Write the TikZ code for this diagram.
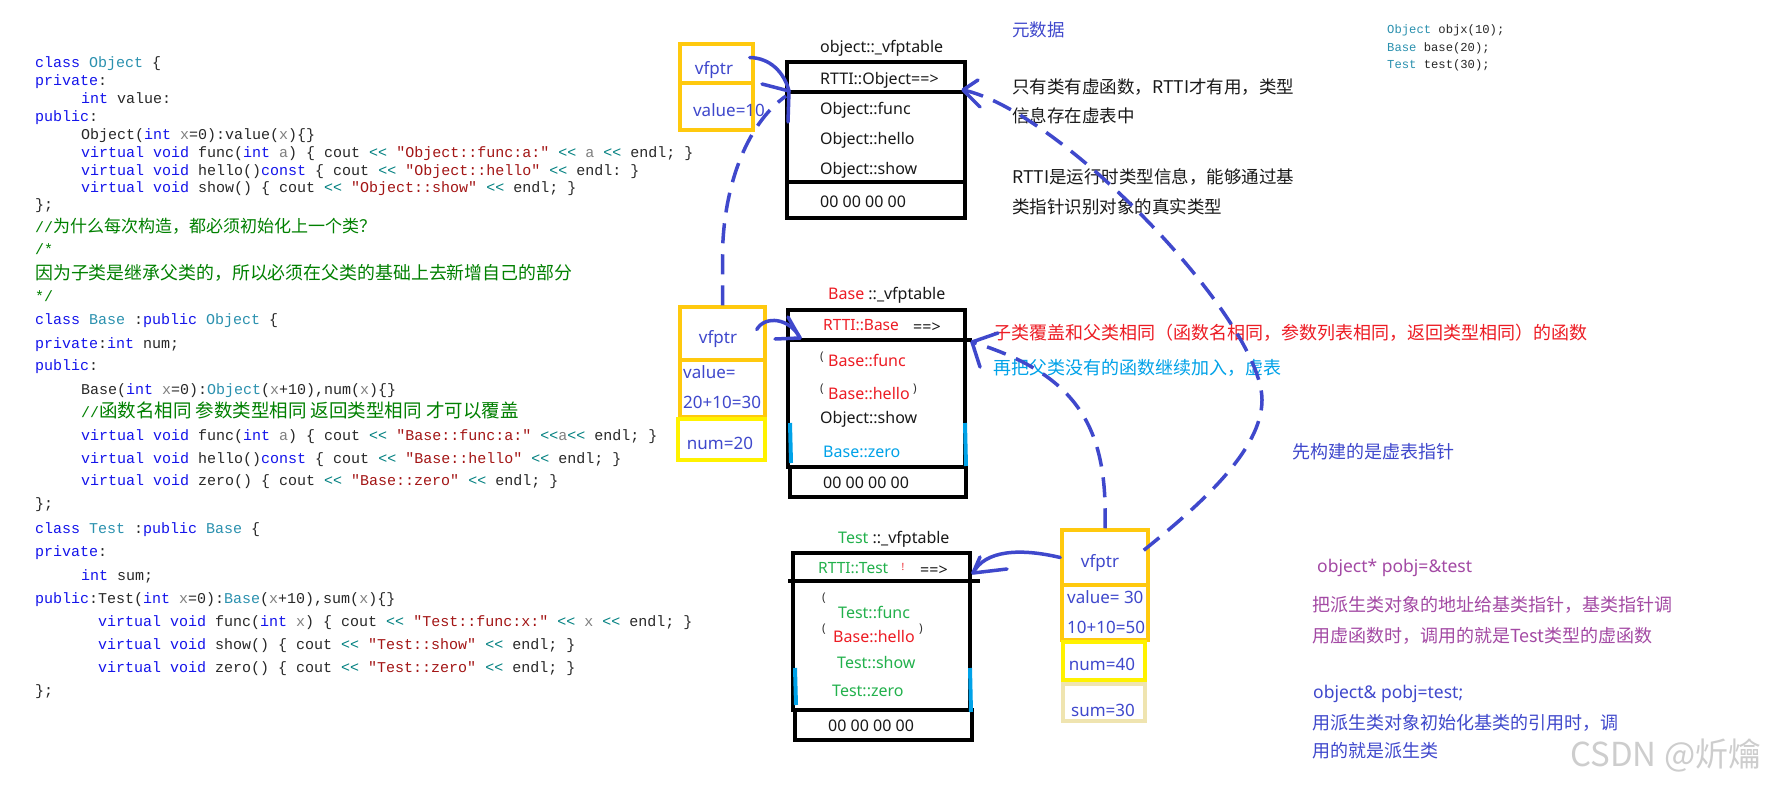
\documentclass[tikz,border=0pt]{standalone}
\usepackage{fontspec}
\setmainfont{Noto Sans}
\setmonofont{Liberation Mono}
\newfontfamily\cjk{Noto Sans CJK SC}
\usetikzlibrary{fit,calc}
\definecolor{pblue}{RGB}{63,72,204}
\definecolor{gold}{RGB}{255,201,14}
\definecolor{pyellow}{RGB}{255,242,0}
\definecolor{beige}{RGB}{239,228,176}
\definecolor{pred}{RGB}{237,28,36}
\definecolor{pcyan}{RGB}{0,162,232}
\definecolor{pgreen}{RGB}{34,177,76}
\definecolor{ppurple}{RGB}{163,73,164}
\definecolor{kwc}{RGB}{20,20,235}
\definecolor{clsc}{RGB}{43,145,175}
\definecolor{strc}{RGB}{163,21,21}
\definecolor{opc}{RGB}{0,128,128}
\definecolor{grc}{RGB}{128,128,128}
\definecolor{comc}{RGB}{0,128,0}
\definecolor{codeblack}{RGB}{40,40,40}
\definecolor{labelblack}{RGB}{25,25,25}
\definecolor{wmgray}{RGB}{205,205,205}
\newcommand\ckw[1]{\textcolor{kwc}{#1}}
\newcommand\ccls[1]{\textcolor{clsc}{#1}}
\newcommand\cstr[1]{\textcolor{strc}{#1}}
\newcommand\cop[1]{\textcolor{opc}{#1}}
\newcommand\cgr[1]{\textcolor{grc}{#1}}
\newcommand\ccn[2]{{\cjk\fontsize{#1}{#1}\selectfont #2}}
\begin{document}
\begin{tikzpicture}[x=1pt,y=-1pt,
  code/.style={anchor=mid west,inner sep=0,font=\ttfamily\fontsize{15}{17}\selectfont,text=codeblack},
  comline/.style={code,text=comc},
  topcode/.style={anchor=mid west,inner sep=0,font=\ttfamily\fontsize{12.2}{14}\selectfont,text=codeblack},
  lbl/.style={anchor=mid west,inner sep=0,font=\fontsize{16}{19}\selectfont,text=labelblack},
  smalllbl/.style={lbl,font=\fontsize{15.5}{18}\selectfont},
  vtxt/.style={inner sep=0,font=\fontsize{17}{20}\selectfont,text=pblue},
  cnote/.style={anchor=mid west,inner sep=0,font=\cjk\fontsize{17.5}{20}\selectfont,text=labelblack},
  bignote/.style={anchor=mid west,inner sep=0,font=\cjk\fontsize{18}{21}\selectfont},
  ybox/.style={draw=gold,line width=3.5pt,inner sep=0},
  yybox/.style={draw=pyellow,line width=3.5pt,inner sep=0},
  bgbox/.style={draw=beige,line width=3.5pt,inner sep=0},
  vbox/.style={draw=black,line width=4pt,inner sep=0},
  rowline/.style={draw=black,line width=4pt},
  cyanedge/.style={draw=pcyan,line width=4pt},
  arrowline/.style={draw=pblue,line width=3.5pt,line cap=round,line join=round},
  dashedarrow/.style={draw=pblue,line width=3.5pt,dash pattern=on 20pt off 11pt},
  artifact/.style={inner sep=0,font=\fontsize{12}{14}\selectfont,text=black!80}
]
\fill[white] (0,0) rectangle (1771,795);
\useasboundingbox (0,0) rectangle (1771,795);

% ---------------- code on the left ----------------
\node[code] (c1) at (35,65) {\ckw{class} \ccls{Object} \{};
\node[code] (c2) at (35,83) {\ckw{private}:};
\node[code] (c3) at (81,101) {\ckw{int} value:};
\node[code] (c4) at (35,119) {\ckw{public}:};
\node[code] (c5) at (81,136.5) {Object(\ckw{int} \cgr{x}=0):value(\cgr{x})\{\}};
\node[code] (c6) at (81,154.5) {\ckw{virtual} \ckw{void} func(\ckw{int} \cgr{a}) \{ cout \cop{<<} \cstr{"Object::func:a:"} \cop{<<} \cgr{a} \cop{<<} endl; \}};
\node[code] (c7) at (81,172.5) {\ckw{virtual} \ckw{void} hello()\ckw{const} \{ cout \cop{<<} \cstr{"Object::hello"} \cop{<<} endl: \}};
\node[code] (c8) at (81,190) {\ckw{virtual} \ckw{void} show() \{ cout \cop{<<} \cstr{"Object::show"} \cop{<<} endl; \}};
\node[code] (c9) at (35,207) {\};};
\node[comline] (c10) at (35,230) {//\ccn{17}{为什么每次构造，都必须初始化上一个类？}};
\node[comline] (c11) at (35,252) {/*};
\node[comline] (c12) at (35,277) {\ccn{17.9}{因为子类是继承父类的，所以必须在父类的基础上去新增自己的部分}};
\node[comline] (c13) at (35,299) {*/};
\node[code] (c14) at (35,321.5) {\ckw{class} \ccls{Base} :\ckw{public} \ccls{Object} \{};
\node[code] (c15) at (35,345.5) {\ckw{private}:\ckw{int} num;};
\node[code] (c16) at (35,367.5) {\ckw{public}:};
\node[code] (c17) at (81,391.5) {Base(\ckw{int} \cgr{x}=0):\ccls{Object}(\cgr{x}+10),num(\cgr{x})\{\}};
\node[comline] (c18) at (81,414.5) {//\ccn{18.5}{函数名相同 参数类型相同 返回类型相同 才可以覆盖}};
\node[code] (c19) at (81,437.5) {\ckw{virtual} \ckw{void} func(\ckw{int} \cgr{a}) \{ cout \cop{<<} \cstr{"Base::func:a:"} \cop{<<}\cgr{a}\cop{<<} endl; \}};
\node[code] (c20) at (81,460.5) {\ckw{virtual} \ckw{void} hello()\ckw{const} \{ cout \cop{<<} \cstr{"Base::hello"} \cop{<<} endl; \}};
\node[code] (c21) at (81,482.5) {\ckw{virtual} \ckw{void} zero() \{ cout \cop{<<} \cstr{"Base::zero"} \cop{<<} endl; \}};
\node[code] (c22) at (35,505.5) {\};};
\node[code] (c23) at (35,530.5) {\ckw{class} \ccls{Test} :\ckw{public} \ccls{Base} \{};
\node[code] (c24) at (35,553.5) {\ckw{private}:};
\node[code] (c25) at (81,577.5) {\ckw{int} sum;};
\node[code] (c26) at (35,600.5) {\ckw{public}:Test(\ckw{int} \cgr{x}=0):\ccls{Base}(\cgr{x}+10),sum(\cgr{x})\{\}};
\node[code] (c27) at (98,623.5) {\ckw{virtual} \ckw{void} func(\ckw{int} \cgr{x}) \{ cout \cop{<<} \cstr{"Test::func:x:"} \cop{<<} \cgr{x} \cop{<<} endl; \}};
\node[code] (c28) at (98,646.5) {\ckw{virtual} \ckw{void} show() \{ cout \cop{<<} \cstr{"Test::show"} \cop{<<} endl; \}};
\node[code] (c29) at (98,669.5) {\ckw{virtual} \ckw{void} zero() \{ cout \cop{<<} \cstr{"Test::zero"} \cop{<<} endl; \}};
\node[code] (c30) at (35,692.5) {\};};

% ---------------- code top right ----------------
\node[topcode] (d1) at (1387,31) {\ccls{Object} objx(10);};
\node[topcode] (d2) at (1387,48.5) {\ccls{Base} base(20);};
\node[topcode] (d3) at (1387,66) {\ccls{Test} test(30);};

% ---------------- Object object and table ----------------
\node[ybox, fit={(680,44)(753,83)}] (ovf) {};
\node[ybox, fit={(680,83)(753,130)}] (oval) {};
\node[vtxt] (ovft) at (714,70) {vfptr};
\node[vtxt] (ovalt) at (729,110) {value=10};

\node[vbox, fit={(787,62)(965,182)}] (otab) {};
\node[vbox, fit={(787,182)(965,218)}] (oend) {};
\draw[rowline] (787,92) -- (965,92);
\node[lbl] (otitle) at (820,50) {object::\_vfptable};
\node[lbl] (orow0) at (820,82) {RTTI::Object==>};
\node[lbl] (orow1) at (820,112) {Object::func};
\node[lbl] (orow2) at (820,142) {Object::hello};
\node[lbl] (orow3) at (820,172) {Object::show};
\node[lbl] (orow4) at (820,205) {00 00 00 00};

% ---------------- Base object and table ----------------
\node[ybox, fit={(680,307)(765,360)}] (bvf) {};
\node[ybox, fit={(680,360)(765,417)}] (bval) {};
\node[yybox, fit={(678,419)(765,460)}] (bnum) {};
\node[vtxt] (bvft) at (718,339) {vfptr};
\node[vtxt, anchor=mid west] (bvalt) at (683,376) {value=};
\node[vtxt, anchor=mid west] (bvalt2) at (683,406) {20+10=30};
\node[vtxt] (bnumt) at (720,443) {num=20};

\node[vbox, fit={(788,310)(965,467)}] (btab) {};
\node[vbox, fit={(790,467)(966,497)}] (bend) {};
\draw[rowline] (788,340) -- (972,340);
\draw[cyanedge] (790,423) -- (791,463);
\draw[cyanedge] (965,423) -- (966,466);
\node[lbl] (btitle) at (828,297) {\textcolor{pred}{Base} ::\_vfptable};
\node[smalllbl, text=pred] (brow0) at (823,328) {RTTI::Base};
\node[lbl] (brow0b) at (913,330) {==>};
\node[artifact] (bart1) at (822,357) {(};
\node[lbl, text=pred] (brow1) at (828,364) {Base::func};
\node[artifact] (bart2) at (822,389) {(};
\node[lbl, text=pred] (brow2) at (828,397) {Base::hello};
\node[artifact] (bart3) at (915,389) {)};
\node[lbl] (brow3) at (820,421) {Object::show};
\node[lbl, text=pcyan] (brow4) at (823,455) {Base::zero};
\node[lbl] (brow5) at (823,486) {00 00 00 00};

% ---------------- Test object and table ----------------
\node[ybox, fit={(1062,530)(1148,585)}] (tvf) {};
\node[ybox, fit={(1062,585)(1148,640)}] (tval) {};
\node[yybox, fit={(1063,642)(1145,680)}] (tnum) {};
\node[bgbox, fit={(1063,684)(1145,721)}] (tsum) {};
\node[vtxt] (tvft) at (1100,563) {vfptr};
\node[vtxt, anchor=mid west] (tvalt) at (1067,601) {value= 30};
\node[vtxt, anchor=mid west] (tvalt2) at (1067,631) {10+10=50};
\node[vtxt] (tnumt) at (1102,664) {num=40};
\node[vtxt] (tsumt) at (1103,710) {sum=30};

\node[vbox, fit={(793,553)(970,710)}] (ttab) {};
\node[vbox, fit={(795,710)(972,740)}] (tend) {};
\draw[rowline] (788,581) -- (980,581);
\draw[cyanedge] (795,668) -- (796,705);
\draw[cyanedge] (970,668) -- (971,712);
\node[lbl] (ttitle) at (838,541) {\textcolor{pgreen}{Test} ::\_vfptable};
\node[smalllbl, text=pgreen] (trow0) at (818,571) {RTTI::Test};
\node[artifact, text=pred, font=\fontsize{10}{12}\selectfont] (tart0) at (903,567) {!};
\node[lbl] (trow0b) at (920,573) {==>};
\node[artifact] (tart1) at (824,598) {(};
\node[lbl, text=pgreen] (trow1) at (838,616) {Test::func};
\node[artifact] (tart2) at (824,629) {(};
\node[lbl, text=pred] (trow2) at (833,640) {Base::hello};
\node[artifact] (tart3) at (921,629) {)};
\node[lbl, text=pgreen] (trow3) at (837,666) {Test::show};
\node[lbl, text=pgreen] (trow4) at (832,694) {Test::zero};
\node[lbl] (trow5) at (828,729) {00 00 00 00};

% ---------------- notes ----------------
\node[cnote, text=pblue] (n0) at (1012,34) {元数据};
\node[cnote] (n1) at (1012,91) {只有类有虚函数，RTTI才有用，类型};
\node[cnote] (n2) at (1012,120) {信息存在虚表中};
\node[cnote] (n3) at (1012,181) {RTTI是运行时类型信息，能够通过基};
\node[cnote] (n4) at (1012,211) {类指针识别对象的真实类型};
\node[bignote, text=pred] (n5) at (993,337) {子类覆盖和父类相同（函数名相同，参数列表相同，返回类型相同）的函数};
\node[bignote, text=pcyan] (n6) at (993,372) {再把父类没有的函数继续加入，虚表};
\node[bignote, text=pblue] (n7) at (1292,456) {先构建的是虚表指针};
\node[lbl, text=ppurple, font=\fontsize{17.5}{20}\selectfont] (n8) at (1317,570) {object* pobj=\&test};
\node[bignote, text=ppurple] (n9) at (1312,609) {把派生类对象的地址给基类指针，基类指针调};
\node[bignote, text=ppurple] (n10) at (1312,640) {用虚函数时，调用的就是Test类型的虚函数};
\node[lbl, text=pblue, font=\fontsize{17.5}{20}\selectfont] (n11) at (1313,696) {object\& pobj=test;};
\node[bignote, text=pblue] (n12) at (1312,727) {用派生类对象初始化基类的引用时，调};
\node[bignote, text=pblue] (n13) at (1312,755) {用的就是派生类};
\node[anchor=mid west, inner sep=0, text=wmgray, font=\cjk\fontsize{33}{36}\selectfont] (wm) at (1570,764) {CSDN @炘爚};

% ---------------- connectors ----------------
% Object vfptr -> Object table
\coordinate (t1) at (789,91);
\draw[arrowline] ([shift={(-5,-6)}]ovf.east) .. controls (770,58) and (784,72) .. (t1);
\draw[arrowline] (t1) -- ++(-27,-7);
\draw[arrowline] (t1) -- ++(-1,31);
% Base vfptr -> Object table (dashed)
\draw[dashedarrow] (bvf.north) -- ++(0,-50) .. controls (723,190) and (745,125) .. (786,96);
% Base vfptr -> Base table
\coordinate (t3) at (800,338);
\draw[arrowline] ([shift={(-10,-4)}]bvf.east) .. controls (765,315) and (790,318) .. (t3);
\draw[arrowline] (t3) -- ++(-25,1);
\draw[arrowline] (t3) -- ++(-12,-21);
% Test vfptr -> Test table
\coordinate (t4) at (973,573);
\draw[arrowline] (tvf.west) .. controls (1020,548) and (985,550) .. (t4);
\draw[arrowline] (t4) -- ++(7,-16);
\draw[arrowline] (t4) -- ++(34,-4);
% Test vfptr -> Base table (dashed)
\coordinate (t5) at (972,342);
\draw[dashedarrow] (tvf.north) .. controls (1108,430) and (1080,375) .. (t5);
\draw[arrowline] (t5) -- ++(26,-9);
\draw[arrowline] (t5) -- ++(8,25);
% Test vfptr -> Object table (dashed)
\coordinate (t6) at (963,90);
\draw[dashedarrow] ([shift={(-6,22)}]tvf.north east) .. controls (1200,505) and (1262,450) .. (1262,400) .. controls (1262,320) and (1060,110) .. (t6);
\draw[arrowline] (t6) -- ++(15,-10);
\draw[arrowline] (t6) -- ++(17,17);
\end{tikzpicture}
\end{document}
